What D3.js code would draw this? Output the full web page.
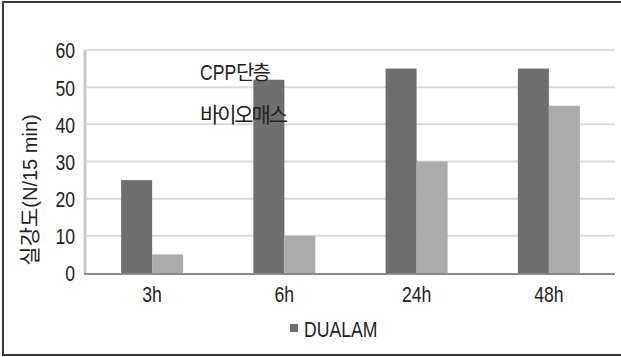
<!DOCTYPE html>
<html>
<head>
<meta charset="utf-8">
<script src="https://cdn.jsdelivr.net/npm/d3@7"></script>
<style>
  html, body { margin: 0; padding: 0; background: #fff; }
  svg { display: block; }
  .lat { font-family: "Liberation Sans", Arial, sans-serif; }
  .kr { font-family: "Noto Sans CJK KR", "Noto Sans", sans-serif; }
</style>
</head>
<body>
<script>
// Time points and tick values
const categories = ["3h", "6h", "24h", "48h"];
const seriesNames = ["DUALAM", "CPP단층 바이오매스"];
const dualamValues = [25, 52, 55, 55];
const biomassValues = [5, 10, 30, 45];
const yTicks = [0, 10, 20, 30, 40, 50, 60];
const yLabel = "실강도(N/15 min)";

const W = 621, H = 357;
const condense = "scale(0.8,1)";
const ink = "#222";
const svg = d3.select("body").append("svg").attr("width", W).attr("height", H);

// Frame around the figure
svg.append("rect")
  .attr("x", 3).attr("y", 2).attr("width", 640).attr("height", 353)
  .attr("fill", "none").attr("stroke", "#3a3a3a").attr("stroke-width", 2);

const x = d3.scaleBand().domain(categories).range([86, 615]).padding(0);
const barW = 31;
const xs = d3.scaleBand().domain(seriesNames)
  .range([x.bandwidth() / 2 - barW, x.bandwidth() / 2 + barW]).padding(0);
const y = d3.scaleLinear().domain([0, 60]).range([273, 50]);
const colors = d3.scaleOrdinal().domain(seriesNames).range(["#6e6e6e", "#ababab"]);

// Horizontal gridlines
svg.append("g").selectAll("line").data(yTicks.filter(t => t > 0)).join("line")
  .attr("x1", 87).attr("x2", 615)
  .attr("y1", d => y(d)).attr("y2", d => y(d))
  .attr("stroke", "#dadada").attr("stroke-width", 2);

// Vertical axis line
svg.append("line")
  .attr("x1", 85).attr("x2", 85).attr("y1", y(60)).attr("y2", y(0))
  .attr("stroke", "#c8c8c8").attr("stroke-width", 3);

// Tick labels
const yAxis = d3.axisLeft(y).tickValues(yTicks).tickSize(0).tickPadding(0);
const gy = svg.append("g").attr("transform", "translate(75,0)").call(yAxis);
gy.select(".domain").remove();
gy.selectAll("text")
  .attr("class", "lat")
  .attr("font-size", 22).attr("fill", ink).attr("dy", "0.36em")
  .attr("transform", condense);

// Bars
const rows = categories.map((c, i) => ({
  cat: c,
  vals: [
    { name: seriesNames[0], v: dualamValues[i] },
    { name: seriesNames[1], v: biomassValues[i] }
  ]
}));
const groups = svg.append("g").selectAll("g").data(rows).join("g")
  .attr("transform", d => `translate(${x(d.cat)},0)`);
groups.selectAll("rect").data(d => d.vals).join("rect")
  .attr("x", d => xs(d.name))
  .attr("width", xs.bandwidth())
  .attr("y", d => y(d.v))
  .attr("height", d => y(0) - y(d.v))
  .attr("fill", d => colors(d.name));

// Baseline
svg.append("line")
  .attr("x1", 84).attr("x2", 615).attr("y1", y(0) + 1).attr("y2", y(0) + 1)
  .attr("stroke", "#8a8a8a").attr("stroke-width", 2);

// Category labels
const xAxis = d3.axisBottom(x).tickSize(0).tickPadding(0);
const gx = svg.append("g").attr("transform", "translate(0,302)").call(xAxis);
gx.select(".domain").remove();
gx.selectAll("text")
  .attr("class", "lat")
  .attr("font-size", 22).attr("fill", ink).attr("dy", 0)
  .attr("transform", condense);

// Y axis title
const yt = svg.append("text")
  .attr("transform", "translate(37,190) rotate(-90)")
  .attr("text-anchor", "middle")
  .attr("fill", ink);
yt.append("tspan").attr("class", "kr").attr("font-size", 21).text(yLabel.slice(0, 3));
yt.append("tspan").attr("class", "lat").attr("font-size", 20).text(yLabel.slice(3));

// Series labels inside the plot
const [cppLine, bioLine] = seriesNames[1].split(" ");
svg.append("g").attr("transform", "translate(200,80)")
  .append("text").attr("class", "lat").attr("font-size", 22).attr("fill", ink)
  .attr("transform", condense).text(cppLine.slice(0, 3));
svg.append("text").attr("x", 236).attr("y", 80)
  .attr("class", "kr").attr("font-size", 20).attr("fill", ink)
  .attr("textLength", 35)
  .text(cppLine.slice(3));
svg.append("text").attr("x", 200).attr("y", 122)
  .attr("class", "kr").attr("font-size", 21).attr("fill", ink)
  .attr("textLength", 88)
  .text(bioLine);

// Legend
svg.append("rect").attr("x", 290).attr("y", 324).attr("width", 8).attr("height", 8)
  .attr("fill", colors(seriesNames[0]));
svg.append("g").attr("transform", "translate(304,337)")
  .append("text").attr("class", "lat").attr("font-size", 22).attr("fill", ink)
  .attr("transform", condense).text(seriesNames[0]);
</script>
</body>
</html>
